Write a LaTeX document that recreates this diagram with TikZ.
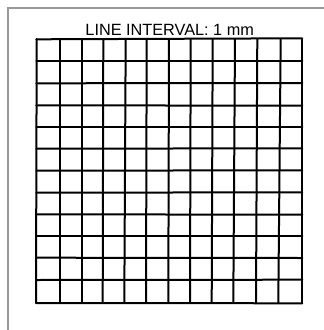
\documentclass[tikz,border=0pt]{standalone}
\usepackage{fontspec}
\setmainfont{Liberation Sans}
\begin{document}
\begin{tikzpicture}[x=0.75pt,y=-0.75pt,
    frameline/.style={draw=gray!80,line width=0.9pt},
    gridline/.style={draw=black,line width=1.5pt,line cap=round,line join=round}]
    \useasboundingbox (0,0) rectangle (324,330);
    % outer frame, cut off at right and bottom
    \draw[frameline] (8,330) -- (8,8) -- (324,8);
    \node[anchor=base,inner sep=0pt,font=\fontsize{12.2}{14}\selectfont] (title) at (169.7,35.7) {LINE INTERVAL: 1 mm};
    % vertical lines (top x / bottom x)
    \foreach \xt/\xb in {36.7/36,60/60,81.7/81.7,103.3/102.7,125.7/124.3,146.7/146,
      169/168.3,190.7/190,212.7/211.7,235/233.3,257.3/256,280.7/278.3,302.3/302.3}
      \draw[gridline] (\xt,39) -- (\xb,303);
    % horizontal lines (left y / right y)
    \foreach \yl/\yr in {39.3/38.3,61/61,83.3/83,105.3/105.7,126.7/126.7,148.7/148.3,
      170.7/170.3,192.7/192.3,214.3/214.7,236/236,257.7/258,280/279.7,303/303.3}
      \draw[gridline] (36.3,\yl) -- (302.3,\yr);
  \end{tikzpicture}
\end{document}
